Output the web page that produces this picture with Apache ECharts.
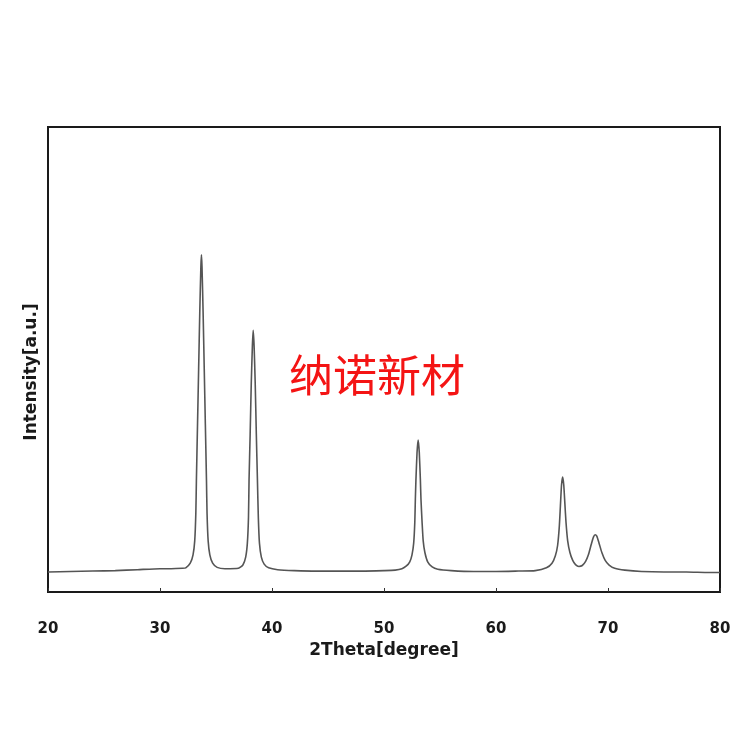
<!DOCTYPE html>
<html>
<head>
<meta charset="utf-8">
<script src="https://cdn.jsdelivr.net/npm/echarts@6/dist/echarts.min.js"></script>
<style>html,body{margin:0;padding:0;background:#fff}#c{width:750px;height:750px}</style>
</head>
<body>
<div id="c"></div>
<script>
// 2Theta (degree)
var twoTheta = [20,22,24,26,28,30,31,32,32.3,32.7,32.95,33.1,33.2,33.25,33.35,33.45,33.55,33.65,33.7,33.75,33.85,33.95,34.05,34.15,34.2,34.3,34.45,34.7,35.1,35.8,
  37.0,37.4,37.65,37.8,37.9,37.95,38.05,38.15,38.25,38.32,38.4,38.5,38.6,38.7,38.78,38.88,39.05,39.3,39.7,40.5,42,44,46,48,50,
  51.0,51.6,52.0,52.3,52.5,52.65,52.75,52.8,52.85,52.95,53.05,53.15,53.25,53.3,53.4,53.5,53.65,53.9,54.3,54.8,56,58,60,62,63.5,
  64.5,65.0,65.3,65.5,65.65,65.75,65.85,65.95,66.05,66.15,66.25,66.4,66.6,66.85,67.1,67.4,67.7,68.0,68.25,68.5,68.7,68.85,69.0,69.2,69.45,69.75,70.1,70.6,71.5,73,75,77,79,80];
// Intensity (a.u.)
var intensity = [4.3,4.4,4.5,4.6,4.8,5.0,5.0,5.1,5.2,6.2,8,11,17,24,36,48,60,70,72.5,70,60,48,36,24,17,11,8,6.2,5.3,5.0,
  5.1,5.8,7.5,10.5,16,24,34,45,53,56.3,53,45,34,24,16,10.5,7.5,6,5.2,4.8,4.6,4.5,4.5,4.5,4.6,
  4.7,5.0,5.6,6.5,8,10.5,15,20,24,30,32.7,30,24,20,15,11,8.5,6.5,5.4,4.9,4.6,4.4,4.4,4.5,4.6,
  5.2,6.2,7.8,10,14,18.5,23,24.7,23,19,15,11,8.5,6.8,5.9,5.5,5.7,6.6,8,10.2,11.8,12.3,12,10.5,8.5,6.8,5.8,5.1,4.7,4.4,4.3,4.3,4.2,4.2];
var xTicks = [20,30,40,50,60,70,80];

var data = twoTheta.map(function(x,i){return [x,intensity[i]];});
var chart = echarts.init(document.getElementById('c'));
chart.setOption({
  animation:false,
  backgroundColor:'#fff',
  grid:{left:48,right:30,top:127,bottom:158,show:true,borderColor:'#1a1a1a',borderWidth:2,backgroundColor:'transparent'},
  xAxis:{type:'value',min:xTicks[0],max:xTicks[xTicks.length-1],interval:10,
    name:'2Theta[degree]',nameLocation:'middle',nameGap:48,
    nameTextStyle:{fontFamily:'DejaVu Sans',fontWeight:'bold',fontSize:17,color:'#1a1a1a',verticalAlign:'top'},
    axisLine:{show:true,lineStyle:{color:'#1a1a1a',width:2}},
    axisTick:{show:true,inside:true,length:4,lineStyle:{color:'#333',width:1}},
    axisLabel:{margin:30,fontFamily:'DejaVu Sans',fontWeight:'bold',fontSize:15,color:'#1a1a1a'},
    splitLine:{show:false}},
  yAxis:{type:'value',min:0,max:100,
    axisLine:{show:true,lineStyle:{color:'#1a1a1a',width:2}},
    axisTick:{show:false},axisLabel:{show:false},splitLine:{show:false}},
  graphic:[
    {type:'text',x:32,y:372,rotation:Math.PI/2,
      style:{text:'Intensity[a.u.]',fontFamily:'DejaVu Sans',fontWeight:'bold',fontSize:17,fill:'#1a1a1a',align:'center',verticalAlign:'middle'}},
    {type:'text',x:377,y:375,
      style:{text:'纳诺新材',fontFamily:'Noto Sans CJK SC',fontSize:44,fill:'#f41414',align:'center',verticalAlign:'middle'}}
  ],
  series:[{type:'line',data:data,showSymbol:false,smooth:0.2,
    lineStyle:{color:'#555',width:1.6}}]
});
</script>
</body>
</html>
